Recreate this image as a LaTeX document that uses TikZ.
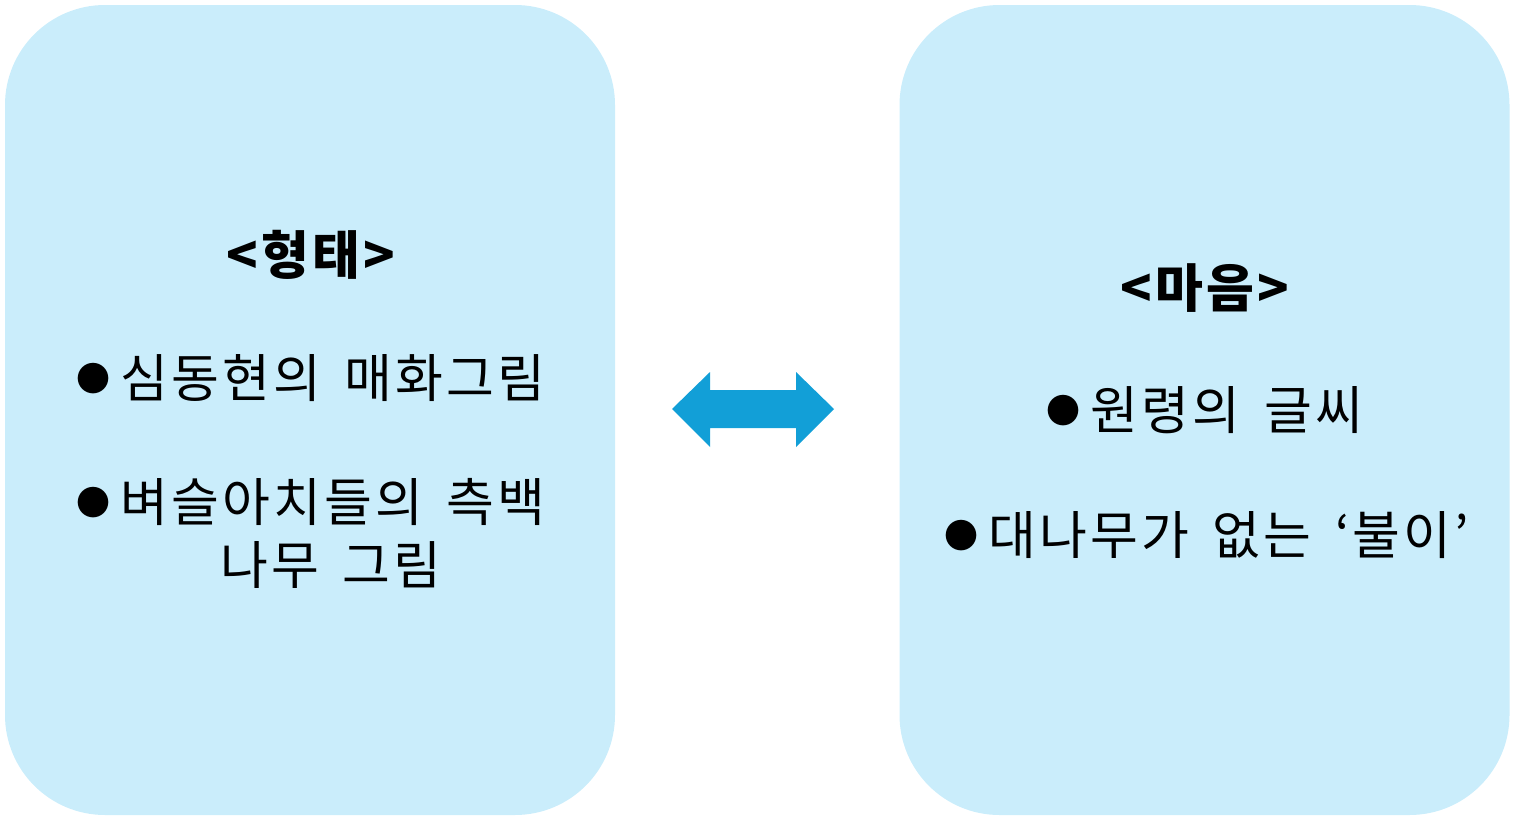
\documentclass[tikz,border=0pt]{standalone}
\usepackage{fontspec}
\usepackage{xcolor}
\usepackage{tikz}
\usetikzlibrary{positioning}
\newfontfamily\kr{Noto Sans CJK KR}[WordSpace=1.6, LetterSpace=6]
\definecolor{PaleSky}{HTML}{CAEDFB}
\definecolor{ArrowBlue}{HTML}{129FD7}
\newcommand{\blt}{\raisebox{3.4pt}{\fontsize{17}{17}\selectfont ●}\hspace{5pt}}

\tikzset{
  panel/.style={fill=PaleSky, rounded corners=50pt, inner sep=0pt,
    minimum width=305pt, minimum height=405pt},
  label/.style={inner sep=0pt, font=\kr\fontsize{26}{26}\selectfont,
    text height=22.9pt, text depth=3.1pt},
  title/.style={label, font=\kr\bfseries\fontsize{26}{26}\selectfont}
}

\begin{document}
\begin{tikzpicture}[x=0.5pt, y=-0.5pt]
    \useasboundingbox (0,0) rectangle (1515,819);
    % the two panels
    \node[panel] (form) at (310,410) {};
    \node[panel] (mind) at (1204.5,410) {};

    % left panel
    \node[title] (formtitle) at (311,255) {<형태>};
    \node[label] (forma) at (311,378) {\blt 심동현의 매화그림};
    \node[label] (formb) at (311,502) {\blt 벼슬아치들의 측백};
    \node[label] (formc) at (331,565) {나무 그림};

    % right panel
    \node[title] (mindtitle) at (1205,288) {<마음>};
    \node[label] (minda) at (1205,410) {\blt 원령의 글씨};
    \node[label] (mindb) at (1207,535) {\blt 대나무가 없는 ‘불이’};

    % double arrow between them
    \fill[ArrowBlue] (672,409) -- (710,372) -- (710,390) -- (796,390) -- (796,372)
      -- (834,409) -- (796,447) -- (796,428) -- (710,428) -- (710,447) -- cycle;
  \end{tikzpicture}
\end{document}
